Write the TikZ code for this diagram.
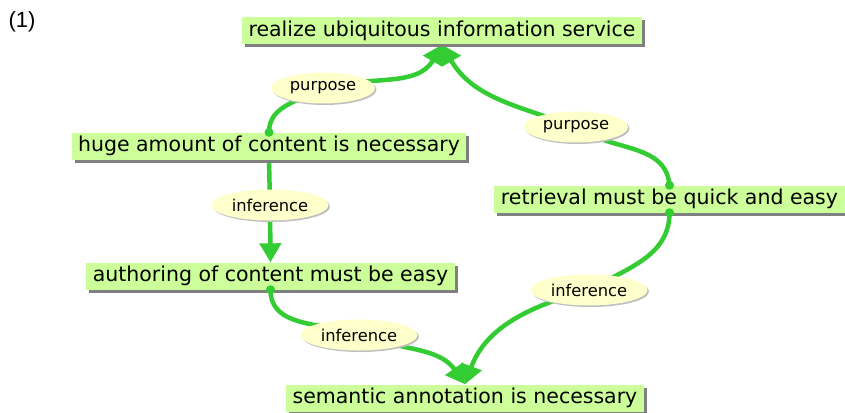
\documentclass[tikz,border=0pt]{standalone}
\usepackage{fontspec}
\setmainfont{DejaVu Sans}
\newfontfamily\arialfont{Liberation Sans}
\usetikzlibrary{arrows.meta,shapes.geometric,shadows,backgrounds}
\definecolor{conncol}{RGB}{51,204,51}
\definecolor{boxfill}{RGB}{204,255,153}
\definecolor{lblfill}{RGB}{255,255,204}
\tikzset{
  claim/.style={rectangle, fill=boxfill, inner xsep=6.5pt, inner ysep=0pt,
    minimum height=27pt, font=\fontsize{20.5}{24}\selectfont,
    drop shadow={shadow xshift=3pt, shadow yshift=-3pt, fill=black!50, opacity=1}},
  lbl/.style={ellipse, fill=lblfill, inner sep=0pt, minimum height=31pt,
    font=\fontsize{16.3}{19}\selectfont,
    drop shadow={shadow xshift=1.5pt, shadow yshift=-1.5pt, fill=black!25, opacity=1}},
  conn/.style={draw=conncol, line width=4.5pt, -{Triangle[length=19pt,width=21pt]}},
  startdot/.style={fill=conncol}
}
\begin{document}
\begin{tikzpicture}[x=1pt,y=-1pt]
\useasboundingbox (0,0) rectangle (845,412);
\node[font=\arialfont\fontsize{22}{24}\selectfont] (num) at (22,22) {(1)};
% claims
\node[claim] (top)  at (442,31)  {realize ubiquitous information service};
\node[claim] (huge) at (269,146) {huge amount of content is necessary};
\node[claim] (ret)  at (669.5,199) {retrieval must be quick and easy};
\node[claim] (auth) at (270.5,276) {authoring of content must be easy};
\node[claim] (sem)  at (465,398) {semantic annotation is necessary};
% labels
\node[lbl, minimum width=104pt] (p1) at (323,88) {purpose};
\node[lbl, minimum width=104pt] (p2) at (576,127) {purpose};
\node[lbl, minimum width=117pt] (i1) at (270,205) {inference};
\node[lbl, minimum width=117pt] (i2) at (359,335) {inference};
\node[lbl, minimum width=117pt] (i3) at (589,290) {inference};
% connectors
\begin{scope}[on background layer]
  \fill[white] (0,0) rectangle (845,412);
  \draw[conn] (huge.north) to[out=90,in=210] (p1.center) to[out=15,in=-120] (top.south);
  \draw[conn] (ret.north) to[out=95,in=-35] (p2.center) to[out=160,in=-60] (top.south);
  \draw[conn] (huge.south) -- (i1.center) -- (auth.north);
  \draw[conn] (auth.south) to[out=-90,in=160] (i2.center) to[out=-20,in=125] (sem.north);
  \draw[conn] (ret.south) to[out=-90,in=30] (i3.center) to[out=195,in=70] (sem.north);
\end{scope}
% start dots
\fill[startdot] (huge.north) circle (4.5pt);
\fill[startdot] (ret.north) circle (4.5pt);
\fill[startdot] (ret.south) circle (4.5pt);
\fill[startdot] (auth.south) circle (4.5pt);
\end{tikzpicture}
\end{document}
